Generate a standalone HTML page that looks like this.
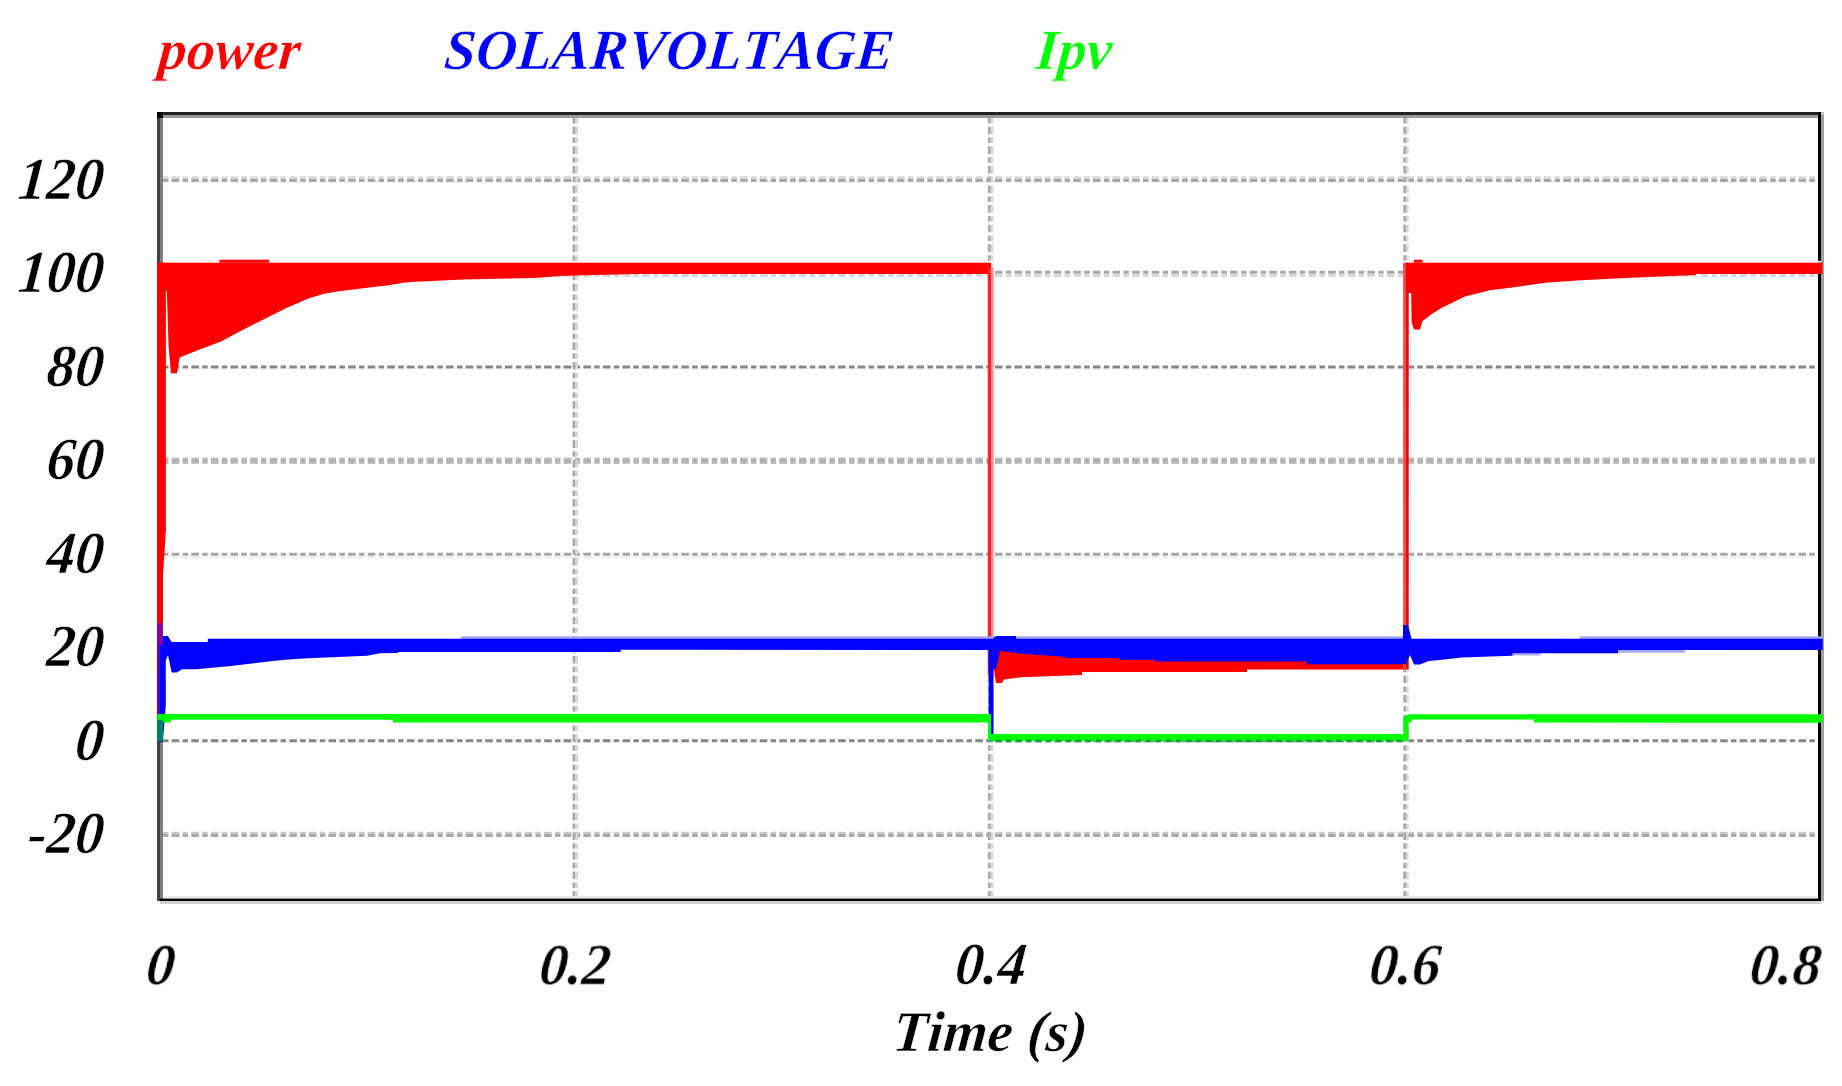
<!DOCTYPE html>
<html lang="en">
<head>
<meta charset="utf-8">
<title>power / SOLARVOLTAGE / Ipv vs Time (s)</title>
<style>
html,body{margin:0;padding:0;background:#ffffff;}
body{width:1842px;height:1086px;overflow:hidden;}
svg{display:block;}
#chart{filter:blur(0.6px);}
</style>
</head>
<body>
<svg width="1842" height="1086" viewBox="0 0 1842 1086">
<rect x="0" y="0" width="1842" height="1086" fill="#ffffff"/>
<g id="chart">
<g id="grid"><line x1="163.0" y1="177.65" x2="1818.0" y2="177.65" stroke="#d8d8d8" stroke-width="2.90" stroke-dasharray="5.5 3.2 7.6 3.3"/>
<line x1="163.0" y1="180.60" x2="1818.0" y2="180.60" stroke="#a6a6a6" stroke-width="3.00" stroke-dasharray="5.5 3.2 7.6 3.3"/>
<line x1="163.0" y1="272.30" x2="1818.0" y2="272.30" stroke="#a6a6a6" stroke-width="3.00" stroke-dasharray="5.5 3.2 7.6 3.3"/>
<line x1="163.0" y1="275.35" x2="1818.0" y2="275.35" stroke="#d8d8d8" stroke-width="3.10" stroke-dasharray="5.5 3.2 7.6 3.3"/>
<line x1="163.0" y1="367.05" x2="1818.0" y2="367.05" stroke="#868686" stroke-width="2.90" stroke-dasharray="5.5 3.2 7.6 3.3"/>
<line x1="163.0" y1="460.75" x2="1818.0" y2="460.75" stroke="#b4b4b4" stroke-width="5.90" stroke-dasharray="5.5 3.2 7.6 3.3"/>
<line x1="163.0" y1="554.30" x2="1818.0" y2="554.30" stroke="#a6a6a6" stroke-width="3.00" stroke-dasharray="5.5 3.2 7.6 3.3"/>
<line x1="163.0" y1="557.35" x2="1818.0" y2="557.35" stroke="#ececec" stroke-width="1.70" stroke-dasharray="5.5 3.2 7.6 3.3"/>
<line x1="163.0" y1="647.50" x2="1818.0" y2="647.50" stroke="#a6a6a6" stroke-width="3.00" stroke-dasharray="5.5 3.2 7.6 3.3"/>
<line x1="163.0" y1="740.70" x2="1818.0" y2="740.70" stroke="#868686" stroke-width="3.00" stroke-dasharray="5.5 3.2 7.6 3.3"/>
<line x1="163.0" y1="832.90" x2="1818.0" y2="832.90" stroke="#cacaca" stroke-width="2.40" stroke-dasharray="5.5 3.2 7.6 3.3"/>
<line x1="163.0" y1="835.60" x2="1818.0" y2="835.60" stroke="#a8a8a8" stroke-width="3.00" stroke-dasharray="5.5 3.2 7.6 3.3"/>
<line x1="574.05" y1="118.0" x2="574.05" y2="898.0" stroke="#aaaaaa" stroke-width="2.90" stroke-dasharray="5.5 3.2 7.6 3.3"/>
<line x1="576.75" y1="118.0" x2="576.75" y2="898.0" stroke="#d6d6d6" stroke-width="2.50" stroke-dasharray="5.5 3.2 7.6 3.3"/>
<line x1="989.35" y1="118.0" x2="989.35" y2="898.0" stroke="#aaaaaa" stroke-width="2.90" stroke-dasharray="5.5 3.2 7.6 3.3"/>
<line x1="992.05" y1="118.0" x2="992.05" y2="898.0" stroke="#d6d6d6" stroke-width="2.50" stroke-dasharray="5.5 3.2 7.6 3.3"/>
<line x1="1404.75" y1="118.0" x2="1404.75" y2="898.0" stroke="#aaaaaa" stroke-width="2.90" stroke-dasharray="5.5 3.2 7.6 3.3"/>
<line x1="1407.45" y1="118.0" x2="1407.45" y2="898.0" stroke="#d6d6d6" stroke-width="2.50" stroke-dasharray="5.5 3.2 7.6 3.3"/></g>
<g id="border"><rect x="157.0" y="112.0" width="1664.0" height="3.0" fill="#222222" />
<rect x="1821.0" y="112.0" width="3.0" height="3.0" fill="#c8c8c8" />
<rect x="157.0" y="115.0" width="1664.0" height="3.0" fill="#999999" />
<rect x="157.0" y="112.0" width="3.0" height="789.0" fill="#404040" />
<rect x="160.0" y="115.0" width="3.0" height="783.0" fill="#808080" />
<rect x="157.0" y="112.0" width="6.0" height="6.0" fill="#000000" />
<rect x="1821.0" y="115.0" width="3.0" height="786.0" fill="#a0a0a0" />
<rect x="1818.0" y="112.0" width="3.0" height="789.0" fill="#000000" />
<rect x="160.0" y="901.0" width="1661.0" height="3.0" fill="#d0d0d0" />
<rect x="160.0" y="898.3" width="1661.0" height="2.7" fill="#000000" />
<rect x="163.0" y="896.0" width="1655.0" height="2.4" fill="#ebebeb" /></g>
<g id="power"><polygon points="160.0,262.5 219.5,262.5 219.5,260.0 269.0,260.0 269.0,262.5 991.0,262.5 991.0,274.0 636.0,274.0 564.0,275.8 534.0,278.0 463.0,279.5 407.0,282.3 387.0,285.6 363.0,288.2 341.0,291.0 324.0,293.8 309.0,298.2 287.0,307.7 265.0,318.8 243.0,329.8 221.0,341.6 199.0,349.7 179.7,357.5 177.0,373.2 171.0,373.2 168.6,347.0 166.8,291.0 165.9,291.0 160.0,291.0" fill="#ff0000" />
<polygon points="157.2,262.5 165.9,262.5 165.9,530.0 163.0,575.0 163.0,625.0 157.2,625.0" fill="#ff0000" />
<rect x="987.8" y="268.0" width="3.2" height="407.0" fill="#ff2222" />
<rect x="991.0" y="268.0" width="2.5" height="407.0" fill="#ff8a8a" />
<polygon points="993.0,655.0 996.0,648.0 1001.0,645.0 1406.0,655.0 1406.0,669.5 1247.0,669.5 1247.0,672.0 1082.0,672.0 1082.0,675.0 1021.0,677.3 1004.0,679.6 1002.0,683.0 996.0,683.0 994.0,670.0" fill="#ff0000" />
<rect x="1403.1" y="262.8" width="2.8" height="406.7" fill="#f45050" />
<rect x="1405.8" y="262.8" width="2.9" height="406.7" fill="#ff0000" />
<polygon points="1405.8,262.5 1414.0,262.5 1414.0,260.0 1422.6,260.0 1422.6,262.5 1822.5,262.5 1822.5,274.0 1696.0,274.0 1696.0,275.1 1631.0,277.7 1580.6,280.2 1545.5,282.7 1510.4,287.7 1490.0,290.2 1465.0,296.5 1441.4,308.0 1430.7,314.7 1422.4,321.3 1419.9,329.6 1414.0,329.6 1411.6,322.0 1411.2,293.0 1408.7,293.0 1405.8,293.0" fill="#ff0000" />
<rect x="163.0" y="260.8" width="828.0" height="1.8" fill="#ffe2e2" />
<rect x="1408.7" y="260.8" width="412.3" height="1.8" fill="#ffe2e2" />
<rect x="219.5" y="259.7" width="49.5" height="2.9" fill="#ff0000" />
<rect x="1414.0" y="259.7" width="8.4" height="2.9" fill="#ff0000" /></g>
<g id="volt"><rect x="460.8" y="636.3" width="942.2" height="2.6" fill="#a4a4ff" />
<rect x="1579.6" y="636.3" width="243.1" height="2.6" fill="#a4a4ff" />
<rect x="1618.0" y="649.9" width="66.7" height="2.8" fill="#a4a4ff" />
<rect x="1512.6" y="653.2" width="28.0" height="2.2" fill="#a4a4ff" />
<polygon points="160.0,640.0 163.0,636.0 168.0,636.0 171.5,642.0 207.8,642.0 207.8,638.8 993.0,638.8 996.0,636.0 1016.0,636.0 1016.0,638.8 1403.0,638.8 1403.0,625.0 1408.0,625.0 1411.5,638.8 1822.7,638.8 1822.7,650.0 1618.0,650.0 1618.0,653.3 1512.6,653.3 1512.6,655.7 1461.8,657.5 1442.0,659.7 1428.6,661.0 1420.0,664.4 1414.0,664.4 1410.0,655.0 1406.0,664.2 1307.0,664.2 1307.0,661.4 1155.0,661.4 1155.0,659.8 1119.0,659.8 1119.0,658.0 1065.0,658.0 1065.0,656.7 1022.0,653.8 1000.0,650.8 996.0,669.0 988.7,669.0 988.7,650.0 620.6,649.8 620.6,652.0 398.0,652.0 398.0,653.0 380.0,653.3 367.0,655.7 308.0,658.2 285.0,659.7 272.6,661.0 252.0,663.6 228.4,666.3 196.0,669.2 182.0,669.2 176.8,672.5 171.7,672.5 168.0,655.0 166.0,660.0 160.0,660.0" fill="#0000ff" />
<polygon points="157.4,640.0 163.0,640.0 165.8,650.0 165.8,705.0 163.0,741.0 157.4,741.0" fill="#0000ff" />
<rect x="157.4" y="623.0" width="2.8" height="90.5" fill="#6a00c8" />
<rect x="157.4" y="623.0" width="5.4" height="22.0" fill="#9000a0" />
<rect x="157.4" y="739.2" width="5.4" height="3.0" fill="#0020c0" />
<rect x="988.7" y="650.0" width="4.8" height="91.5" fill="#0000ff" /></g>
<g id="ipv"><polygon points="157.4,714.0 991.0,714.0 991.0,734.0 1403.3,734.0 1403.3,717.5 1406.0,715.5 1408.7,714.2 1822.7,714.2 1822.7,722.8 1534.0,722.6 1534.0,719.6 1411.5,719.6 1411.5,722.6 1408.7,722.6 1408.7,741.0 988.0,741.0 988.0,722.5 393.0,722.5 393.0,719.8 171.0,719.8 171.0,722.6 163.0,722.6 163.0,741.0 157.4,741.0" fill="#00ff00" />
<rect x="157.4" y="720.0" width="5.4" height="21.0" fill="#008060" />
<line x1="996" y1="740.9" x2="1403" y2="740.9" stroke="#00a838" stroke-width="2.6" stroke-dasharray="5.5 4.5"/></g>
<g id="labels" font-family="'Liberation Serif', 'Times New Roman', serif" font-weight="bold" font-style="italic" style="font-kerning:none" stroke="#ffffff" stroke-width="0.55"><text transform="translate(157.0 69.0) skewX(-5.0) scale(1 1.000)" fill="#ff0000" text-anchor="start" font-size="57.0" >power</text>
<text transform="translate(443.0 68.8) skewX(-5.0) scale(1 1.000)" fill="#0000ff" text-anchor="start" font-size="57.0" >SOLARVOLTAGE</text>
<text transform="translate(1034.5 69.0) skewX(-5.0) scale(1 1.000)" fill="#00ff00" text-anchor="start" font-size="57.0" >Ipv</text>
<text transform="translate(102.5 198.7) skewX(-5.0) scale(1 1.048)" fill="#000" text-anchor="end" font-size="57.0" >120</text>
<text transform="translate(102.5 292.2) skewX(-5.0) scale(1 1.048)" fill="#000" text-anchor="end" font-size="57.0" >100</text>
<text transform="translate(102.5 385.7) skewX(-5.0) scale(1 1.048)" fill="#000" text-anchor="end" font-size="57.0" >80</text>
<text transform="translate(102.5 479.2) skewX(-5.0) scale(1 1.048)" fill="#000" text-anchor="end" font-size="57.0" >60</text>
<text transform="translate(102.5 572.7) skewX(-5.0) scale(1 1.048)" fill="#000" text-anchor="end" font-size="57.0" >40</text>
<text transform="translate(102.5 666.2) skewX(-5.0) scale(1 1.048)" fill="#000" text-anchor="end" font-size="57.0" >20</text>
<text transform="translate(102.5 759.7) skewX(-5.0) scale(1 1.048)" fill="#000" text-anchor="end" font-size="57.0" >0</text>
<text transform="translate(102.5 853.2) skewX(-5.0) scale(1 1.048)" fill="#000" text-anchor="end" font-size="57.0" >-20</text>
<text transform="translate(159.3 984.0) skewX(-5.0) scale(1 1.048)" fill="#000" text-anchor="middle" font-size="57.0" >0</text>
<text transform="translate(573.8 984.0) skewX(-5.0) scale(1 1.048)" fill="#000" text-anchor="middle" font-size="57.0" >0.2</text>
<text transform="translate(989.5 984.0) skewX(-5.0) scale(1 1.048)" fill="#000" text-anchor="middle" font-size="57.0" >0.4</text>
<text transform="translate(1403.8 984.0) skewX(-5.0) scale(1 1.048)" fill="#000" text-anchor="middle" font-size="57.0" >0.6</text>
<text transform="translate(1820.0 984.0) skewX(-5.0) scale(1 1.048)" fill="#000" text-anchor="end" font-size="57.0" >0.8</text>
<text transform="translate(988.7 1050.7) skewX(-5.0) scale(1 1.010)" fill="#000" text-anchor="middle" font-size="57.0" >Time (s)</text></g>
</g>
</svg>
</body>
</html>
